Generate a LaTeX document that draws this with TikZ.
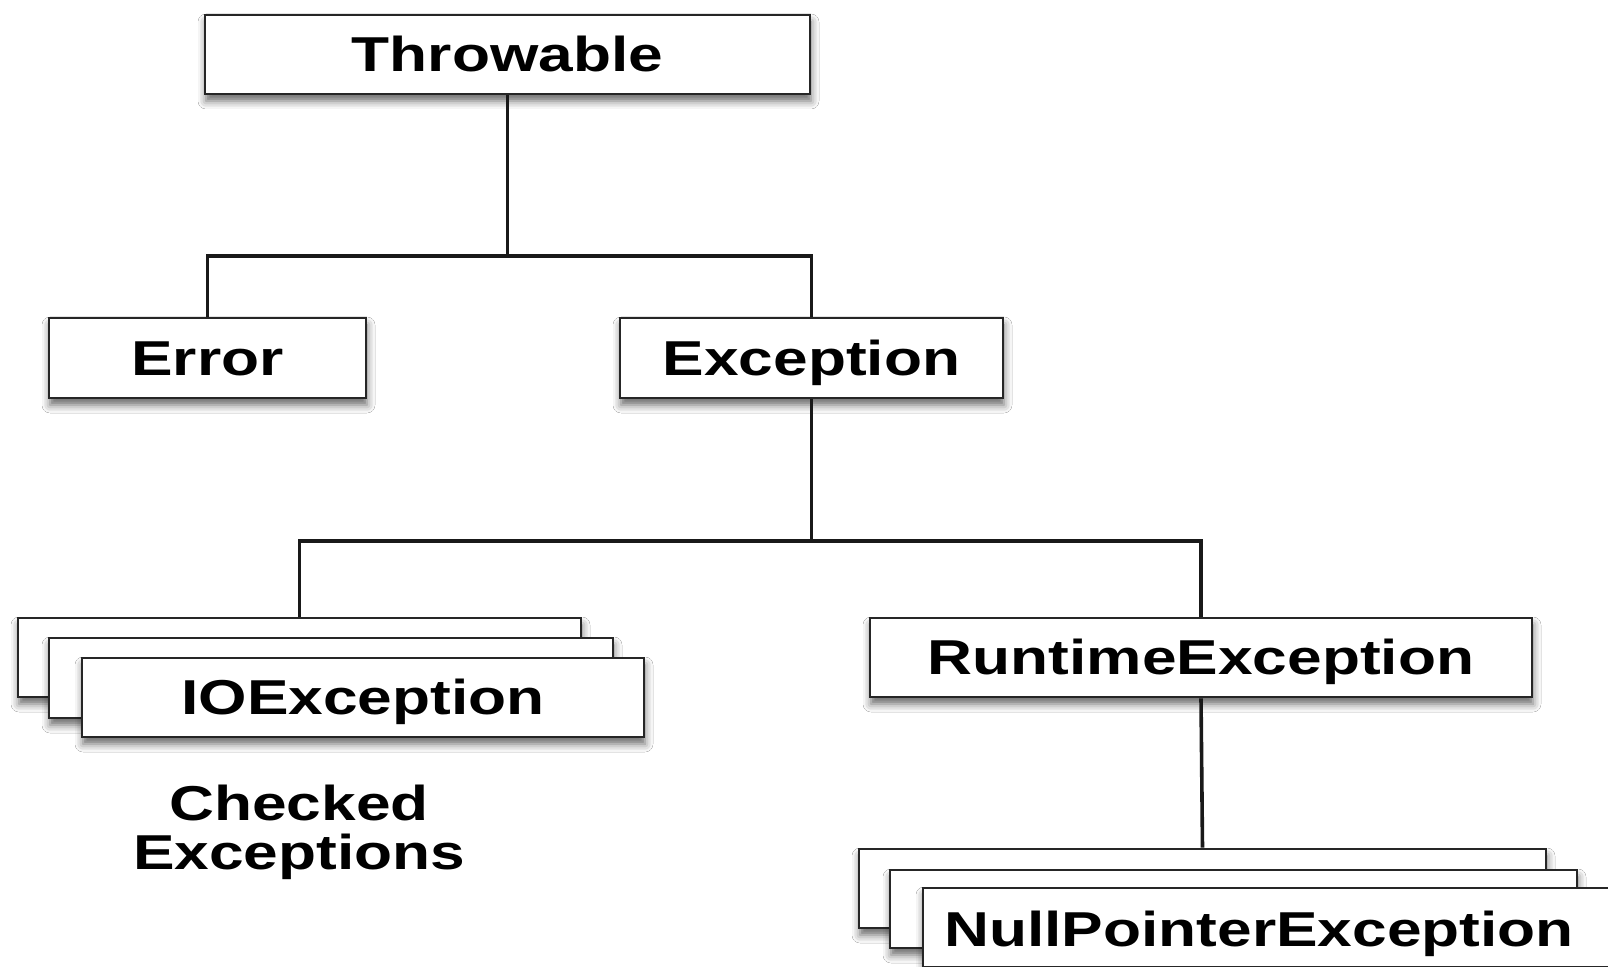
\documentclass[tikz,border=0pt]{standalone}
\usepackage{fontspec}
\setmainfont{Liberation Sans}
\newfontfamily\widefont[FakeStretch=1.27]{Liberation Sans}
\usetikzlibrary{shadows.blur}
\begin{document}
\begin{tikzpicture}[x=0.5pt,y=-0.5pt,
  lbl/.style={font=\widefont\fontsize{24.5}{24.5}\selectfont\bfseries, text=black},
  box/.style={lbl, draw=black!85, line width=1.3pt, fill=white, inner sep=0pt,
    text height=17.5pt, text depth=0pt,
    blur shadow={shadow xshift=0.5pt, shadow yshift=-3.5pt, shadow blur radius=4pt, shadow opacity=60}},
  link/.style={line width=1.8pt, black!90}]
\useasboundingbox[fill=white] (0,0) rectangle (1608,967);

\coordinate (j1) at (507,256);
\coordinate (j2) at (812,541);

% boxes
\node[box, minimum width=302.5pt, minimum height=39.5pt] (thr) at (507.5,54.5) {Throwable};
\node[box, minimum width=158.5pt, minimum height=40pt] (err) at (207.5,358) {Error};
\node[box, minimum width=191.5pt, minimum height=40pt] (exc) at (811.5,358) {Exception};

\node[box, minimum width=281.5pt, minimum height=39.5pt] (iob) at (299.5,657.5) {};
\node[box, minimum width=282pt, minimum height=40pt] (iom) at (331,678) {};
\node[box, minimum width=281pt, minimum height=39.5pt] (iof) at (363,697.5) {IOException};

\node[box, minimum width=331pt, minimum height=39.5pt] (rt) at (1201,657.5) {RuntimeException};

\node[box, minimum width=343.5pt, minimum height=39.5pt] (npeb) at (1202.5,888.5) {};
\node[box, minimum width=343.5pt, minimum height=39pt] (npem) at (1233.5,909) {};
\node[box, minimum width=343.5pt, minimum height=39.5pt] (npef) at (1266.5,927.5) {};
\node[lbl, inner sep=0pt, text height=17.5pt, text depth=0pt] (npet) at (1259,929) {NullPointerException};

\node[lbl, align=center, inner sep=0pt] (chk) at (299,832) {Checked\\Exceptions};

% connectors
\draw[link] (thr.south) -- (thr.south |- j1);
\draw[link] (err.north) |- (j1) -| (exc.north);
\draw[link] (exc.south) -- (exc.south |- j2);
\draw[link] (iob.north) |- (j2) -| (rt.north);
\draw[link] (rt.south) -- (npeb.north);
\end{tikzpicture}
\end{document}
